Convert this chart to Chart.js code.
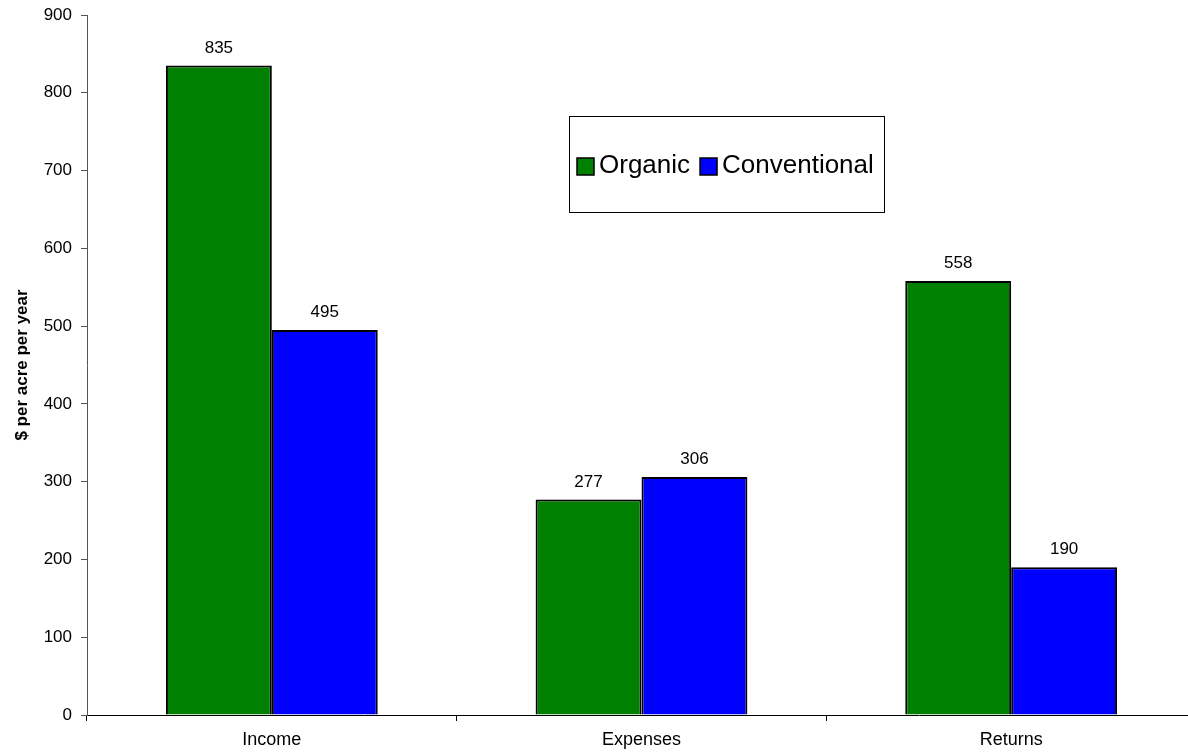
<!DOCTYPE html>
<html>
<head>
<meta charset="utf-8">
<script src="https://cdn.jsdelivr.net/npm/chart.js@4.4.0/dist/chart.umd.min.js"></script>
<style>
    html, body { margin: 0; padding: 0; background: #fff; overflow: hidden; }
    #wrap { width: 1196px; height: 754px; position: relative; }
</style>
</head>
<body>
<div id="wrap"><canvas id="farmChart"></canvas></div>
<script>
// Values
const categories = ['Income', 'Expenses', 'Returns'];
const organicValues = [835, 277, 558];
const conventionalValues = [495, 306, 190];
const seriesNames = ['Organic', 'Conventional'];
const yTicks = [0, 100, 200, 300, 400, 500, 600, 700, 800, 900];

const fontFamily = 'Arial, "Liberation Sans", sans-serif';

// value labels above each bar
const barLabels = {
    id: 'barLabels',
    afterDatasetsDraw(chart) {
        const ctx = chart.ctx;
        ctx.save();
        ctx.font = '17px ' + fontFamily;
        ctx.fillStyle = '#000';
        ctx.textAlign = 'center';
        ctx.textBaseline = 'bottom';
        chart.data.datasets.forEach((ds, i) => {
            chart.getDatasetMeta(i).data.forEach((bar, j) => {
                ctx.fillText(ds.data[j], bar.x, bar.y - 9);
            });
        });
        ctx.restore();
    }
};

// boxed legend floating inside the plot
const boxLegend = {
    id: 'boxLegend',
    afterDraw(chart) {
        const ctx = chart.ctx;
        const x = 569, y = 116, w = 315, h = 96;
        ctx.save();
        ctx.fillStyle = '#fff';
        ctx.fillRect(x, y, w, h);
        ctx.strokeStyle = '#000';
        ctx.lineWidth = 1;
        ctx.strokeRect(x + 0.5, y + 0.5, w, h);
        ctx.font = '26px ' + fontFamily;
        ctx.textBaseline = 'middle';
        ctx.textAlign = 'left';
        let cx = x + 8;
        const cy = y + h / 2 + 2;
        chart.data.datasets.forEach(ds => {
            ctx.fillStyle = ds.backgroundColor;
            ctx.fillRect(cx, cy - 8, 17, 17);
            ctx.strokeStyle = '#000';
            ctx.lineWidth = 1.5;
            ctx.strokeRect(cx, cy - 8, 17, 17);
            ctx.fillStyle = '#000';
            ctx.fillText(ds.label, cx + 22, cy);
            cx += 22 + ctx.measureText(ds.label).width + 10;
        });
        ctx.restore();
    }
};

const ctx = document.getElementById('farmChart').getContext('2d');

const farmChart = new Chart(ctx, {
    type: 'bar',
    data: {
        labels: categories,
        datasets: [{
            label: seriesNames[0],
            data: organicValues,
            backgroundColor: '#008000',
            borderColor: '#000',
            borderWidth: 2
        }, {
            label: seriesNames[1],
            data: conventionalValues,
            backgroundColor: '#0000FF',
            borderColor: '#000',
            borderWidth: 2
        }]
    },
    options: {
        responsive: true,
        maintainAspectRatio: false,
        devicePixelRatio: 1,
        animation: false,
        layout: { padding: { top: 15, left: 0, right: 0, bottom: 0 } },
        plugins: {
            legend: { display: false },
            tooltip: { enabled: false }
        },
        datasets: {
            bar: { categoryPercentage: 0.573, barPercentage: 1.0 }
        },
        scales: {
            x: {
                grid: { offset: true, drawOnChartArea: false, tickLength: 6, color: '#000' },
                border: { display: true, color: '#000', width: 1 },
                ticks: { color: '#000', font: { size: 18, family: fontFamily }, padding: 8 },
                afterFit(scale) { scale.height = 39; scale.paddingLeft = 0; scale.paddingRight = 0; }
            },
            y: {
                min: 0,
                max: 900,
                afterBuildTicks(scale) { scale.ticks = yTicks.map(v => ({ value: v })); },
                grid: { drawOnChartArea: false, tickLength: 6, color: '#555' },
                border: { display: true, color: '#555', width: 1 },
                ticks: { color: '#000', font: { size: 17, family: fontFamily }, padding: 9 },
                title: {
                    display: true,
                    text: '$ per acre per year',
                    color: '#000',
                    font: { size: 17, weight: 'bold', family: fontFamily },
                    padding: { top: 12, bottom: 0 }
                },
                afterFit(scale) { scale.width = 87; scale.paddingTop = 0; scale.paddingBottom = 0; }
            }
        }
    },
    plugins: [barLabels, boxLegend]
});
</script>
</body>
</html>
